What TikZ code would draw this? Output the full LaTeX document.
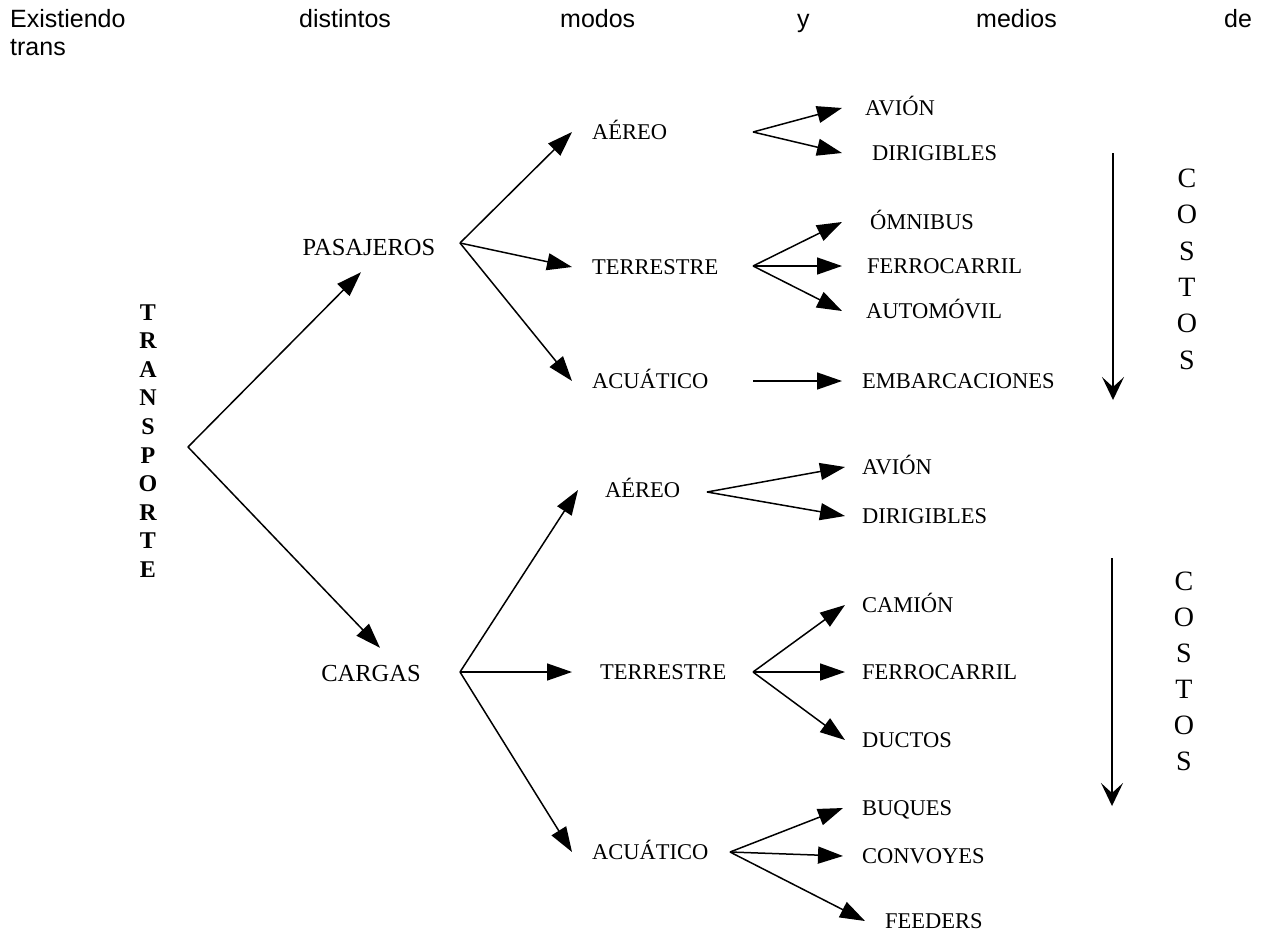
\documentclass[tikz,border=0pt]{standalone}
\usepackage{fontspec}
\setmainfont{Liberation Serif}
\newfontfamily\sansf{Liberation Sans}
\usetikzlibrary{arrows.meta}
\begin{document}
\begin{tikzpicture}[x=1pt,y=-1pt,
  conn/.style={line width=1.5pt, -{Triangle[length=25pt,width=17pt]}},
  lab/.style={font=\fontsize{22.5}{26}\selectfont, text height=15pt, text depth=0pt, inner ysep=0pt, anchor=west},
  big/.style={font=\fontsize{24.5}{28}\selectfont, text height=16pt, text depth=0pt, inner xsep=0pt},
  toptext/.style={font=\sansf\fontsize{25}{29}\selectfont, anchor=base west, inner sep=0pt},
  vlet/.style={font=\bfseries\fontsize{24}{28}\selectfont, text height=16pt, text depth=0pt, inner sep=0pt},
  clet/.style={font=\fontsize{28}{32}\selectfont, text height=18.5pt, text depth=0pt, inner sep=0pt},
  cost/.style={line width=1.5pt, -{Stealth[length=23pt,width=22pt,inset=10pt]}}
]
\useasboundingbox (0,0) rectangle (1265,931);

% header text
\node[toptext] (w1) at (10,28) {Existiendo};
\node[toptext] (w2) at (299,28) {distintos};
\node[toptext] (w3) at (560,28) {modos};
\node[toptext] (w4) at (797,28) {y};
\node[toptext] (w5) at (976,28) {medios};
\node[toptext] (w6) at (1224,28) {de};
\node[toptext] (w7) at (10,56) {trans};

% TRANSPORTE
\foreach \l [count=\i] in {T,R,A,N,S,P,O,R,T,E}
  \node[vlet] (tr\i) at (148,{312+28.6*(\i-1)}) {\l};

% COSTOS
\foreach \l [count=\i] in {C,O,S,T,O,S}
  \node[clet] (ca\i) at (1187,{178+36.4*(\i-1)}) {\l};
\foreach \l [count=\i] in {C,O,S,T,O,S}
  \node[clet] (cb\i) at (1184,{581+36*(\i-1)}) {\l};

\coordinate (costA1) at (1113,153);
\coordinate (costA2) at (1113,400);
\coordinate (costB1) at (1112,558);
\coordinate (costB2) at (1112,806);
\draw[cost] (costA1) -- (costA2);
\draw[cost] (costB1) -- (costB2);

% branching points
\coordinate (tA) at (188,447);
\coordinate (pA) at (460,243);
\coordinate (cA) at (460,672);
\coordinate (paA) at (753,132);
\coordinate (ptA) at (753,266);
\coordinate (pwA) at (753,381);
\coordinate (caA) at (707,492);
\coordinate (ctA) at (753,672);
\coordinate (cwA) at (730,852);

% level 1
\node[big, inner ysep=17pt] (pas) at (369,247) {PASAJEROS};
\node[big, inner ysep=17pt] (car) at (371,673) {CARGAS};

% level 2
\node[lab, inner xsep=20pt] (aereoP) at (572,132) {AÉREO};
\node[lab, inner xsep=20pt] (terrP) at (572,267) {TERRESTRE};
\node[lab, inner xsep=20pt] (acuP) at (572,381) {ACUÁTICO};
\node[lab, inner xsep=27pt] (aereoC) at (578,490) {AÉREO};
\node[lab, inner xsep=28pt] (terrC) at (572,672) {TERRESTRE};
\node[lab, inner xsep=20pt] (acuC) at (572,852) {ACUÁTICO};

% leaves (pasajeros)
\node[lab, inner xsep=23pt] (avP) at (842,108) {AVIÓN};
\node[lab, inner xsep=30pt] (diP) at (842,153) {DIRIGIBLES};
\node[lab, inner xsep=28pt] (omP) at (842,222) {ÓMNIBUS};
\node[lab, inner xsep=25pt] (feP) at (842,266) {FERROCARRIL};
\node[lab, inner xsep=24pt] (auP) at (842,311) {AUTOMÓVIL};
\node[lab, inner xsep=20pt] (emP) at (842,381) {EMBARCACIONES};

% leaves (cargas)
\node[lab, inner xsep=17pt] (avC) at (845,467) {AVIÓN};
\node[lab, inner xsep=17pt] (diC) at (845,516) {DIRIGIBLES};
\node[lab, inner xsep=17pt] (caC) at (845,605) {CAMIÓN};
\node[lab, inner xsep=17pt] (feC) at (845,672) {FERROCARRIL};
\node[lab, inner xsep=17pt] (duC) at (845,740) {DUCTOS};
\node[lab, inner xsep=19pt] (buC) at (843,808) {BUQUES};
\node[lab, inner xsep=19pt] (coC) at (843,856) {CONVOYES};
\node[lab, inner xsep=20pt] (fdC) at (865,921) {FEEDERS};

% connectors
\draw[conn] (tA) -- ([xshift=-8pt]pas.south);
\draw[conn] (tA) -- ([xshift=9pt]car.north);

\draw[conn] (pA) -- (aereoP.west);
\draw[conn] (pA) -- (terrP.west);
\draw[conn] (pA) -- (acuP.west);
\draw[conn] (cA) -- (aereoC.west);
\draw[conn] (cA) -- (terrC.west);
\draw[conn] (cA) -- (acuC.west);

\draw[conn] (paA) -- (avP.west);
\draw[conn] (paA) -- (diP.west);
\draw[conn] (ptA) -- (omP.west);
\draw[conn] (ptA) -- (feP.west);
\draw[conn] (ptA) -- (auP.west);
\draw[conn] (pwA) -- (emP.west);

\draw[conn] (caA) -- (avC.west);
\draw[conn] (caA) -- (diC.west);
\draw[conn] (ctA) -- (caC.west);
\draw[conn] (ctA) -- (feC.west);
\draw[conn] (ctA) -- (duC.west);
\draw[conn] (cwA) -- (buC.west);
\draw[conn] (cwA) -- (coC.west);
\draw[conn] (cwA) -- (fdC.west);
\end{tikzpicture}
\end{document}
